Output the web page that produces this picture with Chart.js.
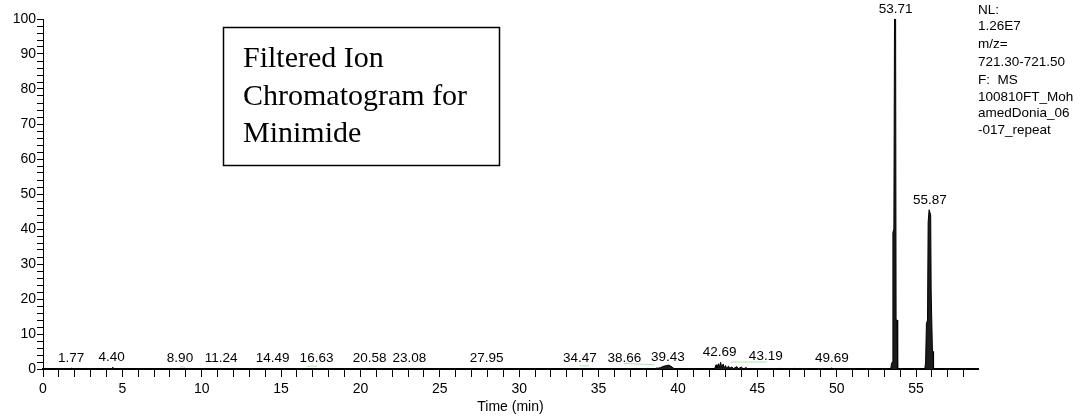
<!DOCTYPE html>
<html>
<head>
<meta charset="utf-8">
<script src="https://cdn.jsdelivr.net/npm/chart.js@4.4.1/dist/chart.umd.min.js"></script>
<style>
  html, body { margin: 0; padding: 0; background: #fff; }
  #wrap { width: 1081px; height: 416px; }
</style>
</head>
<body>
<div id="wrap"><canvas id="chrom" width="1081" height="416"></canvas></div>
<script>
// 色谱数据（时间 min / 相对丰度 %）
const times = [
  0, 1.70, 1.77, 1.84, 4.30, 4.40, 4.48, 8.80, 8.90, 9.00,
  11.15, 11.24, 11.32, 14.40, 14.49, 14.58, 16.55, 16.63, 16.72,
  20.50, 20.58, 20.66, 23.00, 23.08, 23.16, 27.87, 27.95, 28.03,
  34.40, 34.47, 34.55, 38.58, 38.66, 38.74, 38.90, 39.05, 39.20, 39.30, 39.43, 39.55, 39.70, 39.85,
  42.30, 42.40, 42.45, 42.55, 42.60, 42.69, 42.75, 42.85, 42.90, 43.00, 43.05, 43.19, 43.25,
  43.40, 43.50, 43.70, 43.80, 44.00, 44.10, 44.30, 44.40,
  46.35, 46.40, 46.45, 47.30, 47.35, 47.40, 49.60, 49.69, 49.78,
  53.40, 53.45, 53.50, 53.54, 53.60, 53.64, 53.71, 53.74, 53.80, 53.84,
  55.55, 55.60, 55.65, 55.72, 55.76, 55.82, 55.87, 55.92, 55.95, 56.00, 56.03, 56.07, 56.10,
  58.9
];
const intensity = [
  0, 0, 0.3, 0, 0, 0.5, 0, 0, 0.2, 0,
  0, 0.15, 0, 0, 0.15, 0, 0, 0.2, 0,
  0, 0.15, 0, 0, 0.15, 0, 0, 0.15, 0,
  0, 0.2, 0, 0, 0.3, 0.2, 0.4, 0.7, 0.9, 1.0, 1.1, 0.8, 0.3, 0,
  0, 1.2, 0.3, 1.5, 0.5, 1.9, 0.4, 1.4, 0.3, 1.0, 0.2, 0.8, 0.2,
  0.6, 0.1, 0.7, 0.1, 0.6, 0, 0.4, 0,
  0, 0.3, 0, 0, 0.3, 0, 0, 0.3, 0,
  0, 1.5, 2, 39, 40, 100, 100, 14, 14, 0,
  0, 2, 13, 14, 42, 45.5, 45.5, 44, 22, 22, 5, 5, 0,
  0
];

// 峰标注：保留时间、标签中心所在时间、标签下沿对应的丰度
const peakTimes = [1.77, 4.40, 8.90, 11.24, 14.49, 16.63, 20.58, 23.08, 27.95,
  34.47, 38.66, 39.43, 42.69, 43.19, 49.69, 53.71, 55.87];
const peakLabelX = [1.77, 4.33, 8.63, 11.22, 14.46, 17.23, 20.58, 23.08, 27.95,
  33.82, 36.62, 39.36, 42.63, 45.53, 49.69, 53.71, 55.87];
const peakHeights = [0.3, 0.5, 0.2, 0.15, 0.15, 0.2, 0.15, 0.15, 0.15,
  0.2, 0.3, 0.7, 1.9, 0.9, 0.3, 100, 45.5];

// 积分基线（浅绿色，null 断开）
const baseX = [8.6, 8.9, null, 16.6, 17.25, null, 33.8, 34.4, null, 36.6, 38.5, null, 43.3, 45.6];
const baseY = [0.6, 0.6, null, 0.8, 0.8, null, 0.9, 0.9, null, 1.6, 1.2, null, 2.0, 2.0];

const infoLines = ['NL:', '1.26E7', 'm/z=', '721.30-721.50', 'F:  MS', '100810FT_Moh', 'amedDonia_06', '-017_repeat'];
const boxLines = ['Filtered Ion', 'Chromatogram for', 'Minimide'];

const SANS = '"Liberation Sans", Arial, sans-serif';
const SERIF = '"Liberation Serif", "Times New Roman", serif';

const traceData = times.map((t, i) => ({ x: t, y: intensity[i] }));
const baseData = baseX.map((t, i) => ({ x: t, y: baseY[i] }));

/**
 * 峰标签 + 文本框 + 右侧信息
 */
const annotations = {
  id: 'annotations',
  afterDatasetsDraw(chart) {
    const { ctx, scales: { x, y } } = chart;
    ctx.save();
    ctx.fillStyle = '#000';
    ctx.font = `13.5px ${SANS}`;
    ctx.textAlign = 'center';
    ctx.textBaseline = 'bottom';
    peakTimes.forEach((t, i) => {
      ctx.fillText(t.toFixed(2), x.getPixelForValue(peakLabelX[i]), y.getPixelForValue(peakHeights[i]) - 3);
    });

    // 文本框
    ctx.strokeStyle = '#000';
    ctx.lineWidth = 1.5;
    ctx.strokeRect(223.5, 27.5, 276, 138);
    ctx.font = `30px ${SERIF}`;
    ctx.textAlign = 'left';
    ctx.textBaseline = 'alphabetic';
    boxLines.forEach((s, i) => ctx.fillText(s, 243, 67 + i * 37.5));

    // 右侧信息
    ctx.font = `13.5px ${SANS}`;
    ctx.textBaseline = 'middle';
    const ys = [10, 26, 44, 62, 80, 97, 113, 130];
    infoLines.forEach((s, i) => ctx.fillText(s, 978, ys[i]));
    ctx.restore();
  },
};

new Chart(document.getElementById('chrom'), {
  type: 'line',
  data: {
    datasets: [
      {
        data: traceData,
        borderColor: '#000',
        borderWidth: 1,
        backgroundColor: '#1c1c1c',
        fill: 'origin',
        pointRadius: 0,
        tension: 0,
      },
      {
        data: baseData,
        borderColor: '#b4e0b4',
        borderWidth: 1,
        pointRadius: 0,
        spanGaps: false,
        fill: false,
      },
    ],
  },
  options: {
    responsive: false,
    animation: false,
    devicePixelRatio: 1,
    layout: { padding: { top: 19, right: 103, left: 0, bottom: 0 } },
    plugins: { legend: { display: false }, tooltip: { enabled: false } },
    scales: {
      x: {
        type: 'linear',
        min: 0,
        max: 58.9,
        afterFit: (s) => { s.height = 47; },
        border: { display: true, color: '#000', width: 2 },
        grid: { drawOnChartArea: false, drawTicks: true, tickLength: 8, tickColor: '#000' },
        ticks: {
          stepSize: 1,
          autoSkip: false,
          includeBounds: false,
          maxRotation: 0,
          padding: 4,
          color: '#000',
          font: { family: SANS, size: 14 },
          callback: (v) => (v % 5 === 0 ? v : ''),
        },
        title: {
          display: true,
          text: 'Time (min)',
          color: '#000',
          padding: 0,
          font: { family: SANS, size: 14 },
        },
      },
      y: {
        min: 0,
        max: 100,
        afterFit: (s) => { s.width = 43; },
        border: { display: true, color: '#000', width: 1 },
        grid: { drawOnChartArea: false, drawTicks: true, tickLength: 6, tickColor: '#000' },
        ticks: {
          stepSize: 2,
          autoSkip: false,
          padding: 1,
          color: '#000',
          font: { family: SANS, size: 14 },
          callback: (v) => (v % 10 === 0 ? v : ''),
        },
      },
    },
  },
  plugins: [annotations],
});
</script>
</body>
</html>
